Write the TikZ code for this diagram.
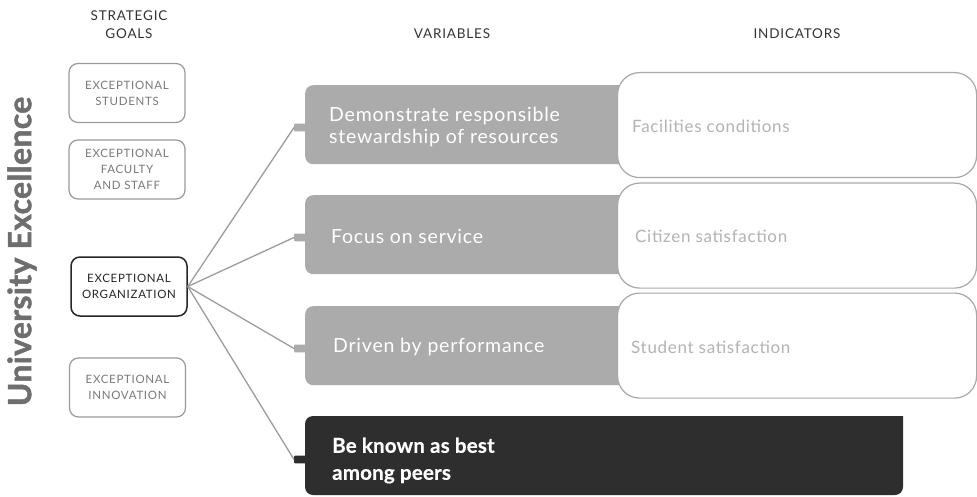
\documentclass[tikz,border=0pt]{standalone}
\usepackage{fontspec}
\setmainfont{Lato}
\newfontfamily\capsfont[LetterSpace=6]{Lato}
\newfontfamily\varfont[LetterSpace=4]{Lato}
\newfontfamily\boldvarfont[LetterSpace=1,BoldFeatures={FakeBold=0.5}]{Lato}
\newfontfamily\titlefont[LetterSpace=1,BoldFeatures={FakeBold=1.5}]{Lato}
\definecolor{varfill}{HTML}{ABABAB}
\definecolor{darkfill}{HTML}{2E2E2E}
\definecolor{indborder}{HTML}{A8A8A8}
\definecolor{indtext}{HTML}{B3B3B3}
\definecolor{goalborder}{HTML}{9A9A9A}
\definecolor{goaltext}{HTML}{7A7A7A}
\definecolor{linecol}{HTML}{9C9C9C}
\definecolor{titlecol}{HTML}{6E6E6E}
\definecolor{headcol}{HTML}{333333}
\tikzset{
  goalbox/.style={draw=goalborder, line width=1.2pt, rounded corners=9pt, fill=white,
    minimum width=116pt, minimum height=59pt, inner sep=0pt, align=center,
    text=goaltext, font=\capsfont\fontsize{11.5}{16}\selectfont},
  goalhi/.style={goalbox, draw=black!85, line width=1.5pt, text=black!85},
  header/.style={text=headcol, align=center, font=\capsfont\fontsize{13.5}{18}\selectfont},
  varbox/.style={fill=varfill, rounded corners=8pt, minimum width=340pt, minimum height=79pt,
    inner sep=0pt, anchor=north west},
  vartext/.style={text=white, anchor=west, align=left, inner sep=0pt,
    font=\varfont\fontsize{19.5}{22}\selectfont},
  indbox/.style={draw=indborder, line width=1.2pt, fill=white, rounded corners=22pt,
    minimum width=359pt, minimum height=105pt, inner sep=0pt, anchor=north west},
  indtext/.style={text=indtext, anchor=west, inner sep=0pt, font=\varfont\fontsize{17}{18}\selectfont},
  bump/.style={fill=#1, rounded corners=1pt},
  conn/.style={draw=linecol, line width=1.3pt},
}
\begin{document}
\begin{tikzpicture}[x=1pt,y=-1pt]
\useasboundingbox (0,0) rectangle (977,497);
% headers
\node[header] (hgoals) at (129,25) {STRATEGIC\\GOALS};
\node[header] (hvars) at (452,34) {VARIABLES};
\node[header] (hinds) at (797,34) {INDICATORS};
% title
\node[rotate=90, text=titlecol, font=\titlefont\bfseries\fontsize{32}{34}\selectfont, inner sep=0pt] (title) at (22,251.5) {University Excellence};
% goal boxes
\node[goalbox] (g1) at (127,93) {EXCEPTIONAL\\STUDENTS};
\node[goalbox] (g2) at (127,169.5) {EXCEPTIONAL\\FACULTY\\AND STAFF};
\node[goalhi] (g3) at (129,286.5) {EXCEPTIONAL\\ORGANIZATION};
\node[goalbox] (g4) at (127.5,387.5) {EXCEPTIONAL\\INNOVATION};
% variable boxes
\node[varbox] (v1) at (305,85) {};
\node[varbox] (v2) at (305,195) {};
\node[varbox] (v3) at (305,306) {};
\fill[darkfill, rounded corners=8pt] (305,416) -- (305,495) -- (903,495) [sharp corners] -- (903,416) [rounded corners=8pt] -- cycle;
\node[inner sep=0pt, minimum width=598pt, minimum height=79pt, anchor=north west] (v4) at (305,416) {};
% bumps
\foreach \n/\yy/\c in {b1/127.5/varfill, b2/237.5/varfill, b3/348.5/varfill, b4/459.5/darkfill}{
  \fill[bump=\c] (294,\yy-3.8) rectangle (308,\yy+3.8);
  \coordinate (\n) at (294,\yy);
}
% connectors
\foreach \n in {b1,b2,b3,b4}{
  \draw[conn] (g3.east) -- (\n);
}
% variable texts
\node[vartext] (t1) at (329,127) {Demonstrate responsible\\stewardship of resources};
\node[vartext] (t2) at (331,236) {Focus on service};
\node[vartext] (t3) at (333,347) {Driven by performance};
\node[vartext, font=\boldvarfont\bfseries\fontsize{20.5}{27}\selectfont] (t4) at (332,460.5) {Be known as best\\among peers};
% indicator boxes
\node[indbox] (i1) at (617,72) {};
\node[indbox] (i2) at (617,182.5) {};
\node[indbox] (i3) at (617,292.5) {};
\node[indtext] (it1) at (632,126) {Facilities conditions};
\node[indtext] (it2) at (635,236) {Citizen satisfaction};
\node[indtext] (it3) at (631,347) {Student satisfaction};
\end{tikzpicture}
\end{document}
